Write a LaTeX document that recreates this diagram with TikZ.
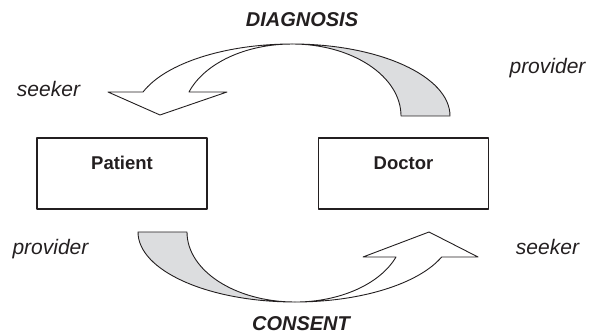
\documentclass[tikz,border=0pt]{standalone}
\usepackage{fontspec}
\setmainfont{Liberation Sans}
\usepackage{tikz}
\usetikzlibrary{positioning}
\definecolor{ink}{RGB}{35,31,32}
\definecolor{backgray}{RGB}{220,221,223}

\begin{document}
\begin{tikzpicture}[x=1pt, y=1pt, line join=round,
  party/.style={draw=ink, line width=1.1pt, minimum width=170pt, minimum height=71pt, inner sep=0pt, text=ink, font=\bfseries\fontsize{18.5}{20}\selectfont, text height=13pt, text depth=21pt},
  role/.style={anchor=base, text=ink, font=\itshape\fontsize{21}{24}\selectfont},
  flow/.style={anchor=base, text=ink, font=\bfseries\itshape\fontsize{20}{24}\selectfont},
  ribbon/.style={draw=ink, line width=0.9pt, fill=white},
  back/.style={draw=ink, line width=0.9pt, fill=backgray}
]
  \useasboundingbox (0,0) rectangle (593,334);

  \node[party] (patient) at (122,160.5) {Patient};
  \node[party] (doctor) at (403.5,160.5) {Doctor};

  % diagnosis: doctor to patient
  \draw[back] (292,290) arc[start angle=90, end angle=0, x radius=158pt, y radius=72pt] -- (401,218)
    arc[start angle=0, end angle=90, x radius=109pt, y radius=72pt] -- cycle;
  \draw[ribbon] (292,290) arc[start angle=90, end angle=160.5, x radius=158pt, y radius=72pt]
    -- (108,242) -- (160,219) -- (227,242) -- (189,242)
    arc[start angle=160.5, end angle=90, x radius=109pt, y radius=72pt] -- cycle;

  % consent: patient to doctor
  \draw[back] (138,102) arc[start angle=180, end angle=270, x radius=157pt, y radius=70pt]
    arc[start angle=270, end angle=180, x radius=108pt, y radius=70pt] -- cycle;
  \draw[ribbon] (295,32) arc[start angle=270, end angle=339.1, x radius=157pt, y radius=70pt]
    -- (478,77) -- (429,102) -- (363,77) -- (396,77)
    arc[start angle=339.1, end angle=270, x radius=108pt, y radius=70pt] -- cycle;

  \node[flow] (diagnosis) at (302,307.3) {DIAGNOSIS};
  \node[flow] (consent) at (301,3.2) {CONSENT};
  \node[role] (seekerP) at (48.5,237.3) {seeker};
  \node[role] (providerD) at (547.5,260.7) {provider};
  \node[role] (providerP) at (50.5,79.7) {provider};
  \node[role] (seekerD) at (547.5,79.7) {seeker};
\end{tikzpicture}
\end{document}
